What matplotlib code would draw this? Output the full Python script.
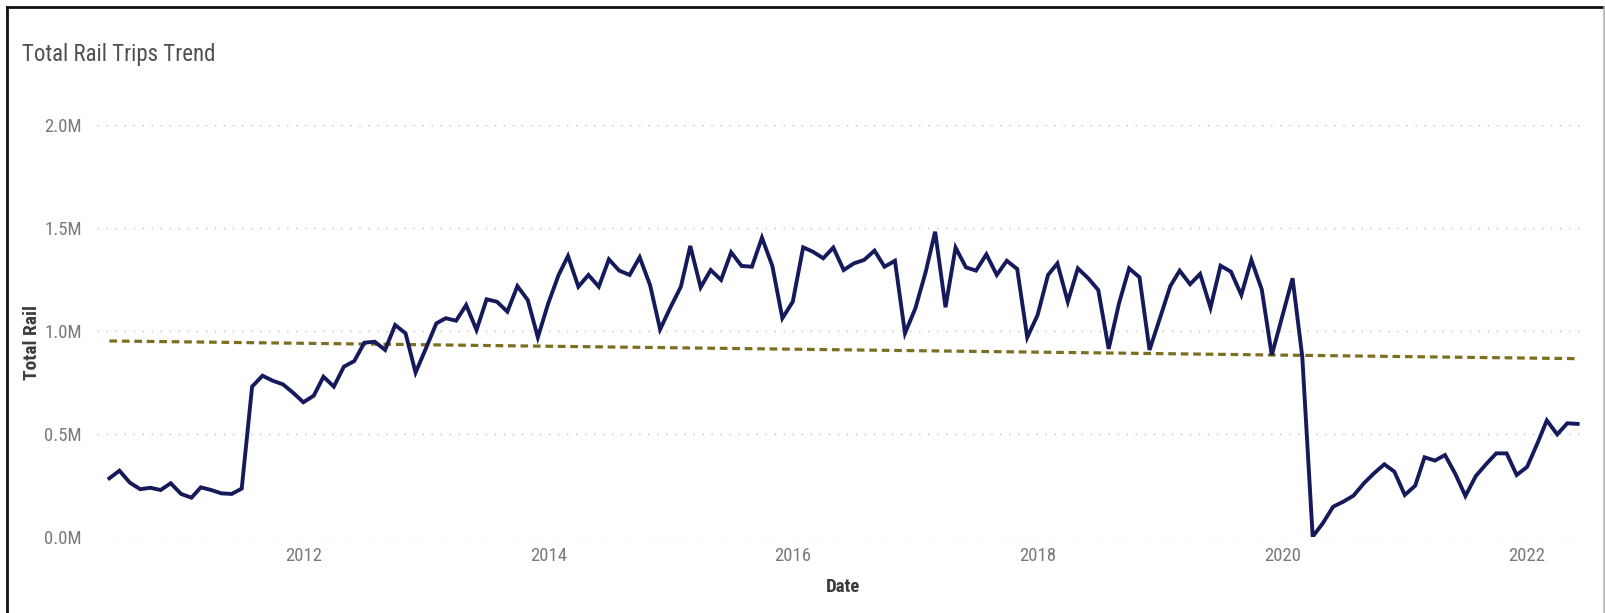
import numpy as np
import pandas as pd
import matplotlib
matplotlib.use("Agg")
import matplotlib.pyplot as plt
import matplotlib.dates as mdates
from matplotlib.lines import Line2D
from matplotlib import font_manager as fm
from matplotlib.ticker import FixedLocator, FuncFormatter

# ---------------- data (millions of trips, monthly, Jun 2010 - Jun 2022) ----------------
start_month = "2010-06-01"
values_2010 = [0.285, 0.322, 0.264, 0.232, 0.239, 0.228, 0.261]
values_2011 = [0.209, 0.191, 0.241, 0.228, 0.212, 0.209, 0.235, 0.730, 0.783, 0.759, 0.741, 0.701]
values_2012 = [0.654, 0.686, 0.778, 0.730, 0.827, 0.854, 0.943, 0.948, 0.908, 1.029, 0.989, 0.798]
values_2013 = [0.916, 1.037, 1.062, 1.050, 1.126, 1.005, 1.154, 1.142, 1.094, 1.218, 1.150, 0.969]
values_2014 = [1.134, 1.272, 1.364, 1.215, 1.272, 1.215, 1.348, 1.293, 1.272, 1.358, 1.223, 1.008]
values_2015 = [1.115, 1.215, 1.413, 1.212, 1.296, 1.248, 1.382, 1.316, 1.312, 1.453, 1.316, 1.062]
values_2016 = [1.142, 1.406, 1.385, 1.353, 1.405, 1.296, 1.328, 1.345, 1.390, 1.312, 1.341, 0.989]
values_2017 = [1.110, 1.288, 1.482, 1.115, 1.405, 1.309, 1.293, 1.372, 1.272, 1.341, 1.301, 0.969]
values_2018 = [1.078, 1.272, 1.328, 1.142, 1.304, 1.256, 1.199, 0.913, 1.135, 1.304, 1.261, 0.908]
values_2019 = [1.062, 1.218, 1.293, 1.227, 1.277, 1.113, 1.317, 1.288, 1.175, 1.345, 1.202, 0.883]
values_2020 = [1.069, 1.256, 0.875, 0.002, 0.066, 0.147, 0.171, 0.201, 0.261, 0.309, 0.353, 0.317]
values_2021 = [0.204, 0.249, 0.387, 0.371, 0.398, 0.306, 0.199, 0.296, 0.354, 0.406, 0.406, 0.301]
values_2022 = [0.340, 0.455, 0.566, 0.498, 0.552, 0.549]

y_ticks = [0.0, 0.5, 1.0, 1.5, 2.0]
x_tick_years = [2012, 2014, 2016, 2018, 2020, 2022]

title = "Total Rail Trips Trend"
x_title = "Date"
y_title = "Total Rail"

values = np.array(values_2010 + values_2011 + values_2012 + values_2013 + values_2014 +
                  values_2015 + values_2016 + values_2017 + values_2018 + values_2019 +
                  values_2020 + values_2021 + values_2022) * 1e6
dates = pd.date_range(start_month, periods=len(values), freq="MS")

# ---------------- fonts ----------------
names = {f.name for f in fm.fontManager.ttflist}
FONT = "DejaVu Sans"
for cand in ["Liberation Sans Narrow", "Roboto Condensed", "Open Sans Condensed", "Roboto", "Lato"]:
    if cand in names:
        FONT = cand
        break
plt.rcParams["font.family"] = [FONT, "DejaVu Sans"]

W, H = 1606, 613
fig = plt.figure(figsize=(W / 100, H / 100), dpi=100)
fig.patch.set_facecolor("white")

ax_left, ax_right, ax_top, ax_bottom = 97, 1583, 125, 537
ax = fig.add_axes([ax_left / W, 1 - ax_bottom / H, (ax_right - ax_left) / W, (ax_bottom - ax_top) / H])

xnum = mdates.date2num(dates)
ax.plot(dates, values, color="#141a5a", lw=2.8, solid_joinstyle="miter", zorder=3)

# linear trend line (least squares on the plotted series)
k, b = np.polyfit(xnum, values, 1)
ax.plot(dates, k * xnum + b, color="#7d6f22", lw=2.3, linestyle=(0, (2.4, 1.5)), zorder=2)

ax.set_ylim(0, 2.0e6)
ax.set_xlim(pd.Timestamp("2010-04-25"), pd.Timestamp("2022-06-17"))

ax.yaxis.set_major_locator(FixedLocator([v * 1e6 for v in y_ticks]))
ax.yaxis.set_major_formatter(FuncFormatter(lambda v, p: f"{v / 1e6:.1f}M"))
ax.xaxis.set_major_locator(FixedLocator([mdates.date2num(pd.Timestamp(f"{y}-01-01")) for y in x_tick_years]))
ax.xaxis.set_major_formatter(FuncFormatter(lambda v, p: mdates.num2date(v).strftime("%Y")))

ax.grid(axis="y", color="#bdbdbd", lw=1.0, linestyle=(0, (1, 5.5)))
ax.grid(axis="x", visible=False)
ax.set_axisbelow(True)
for s in ax.spines.values():
    s.set_visible(False)
ax.tick_params(axis="both", length=0, labelsize=13.5, labelcolor="#7a7a7a")
ax.tick_params(axis="y", pad=11)
ax.tick_params(axis="x", pad=7)
ax.set_facecolor("white")

# titles
fig.text(22 / W, 1 - 55 / H, title, fontsize=16.5, color="#505050", ha="left", va="center")
fig.text(843 / W, 1 - 587 / H, x_title, fontsize=13.5, fontweight="bold", color="#3c3c3c",
         ha="center", va="center")
fig.text(32 / W, 1 - 342 / H, y_title, fontsize=14, fontweight="bold", color="#3c3c3c",
         ha="center", va="center", rotation=90)

# frame of the screenshot
fig.add_artist(Line2D([7 / W, 1.0], [1 - 6.5 / H, 1 - 6.5 / H], transform=fig.transFigure,
                      color="#111111", lw=2.0))
fig.add_artist(Line2D([7 / W, 7 / W], [0, 1 - 6.5 / H], transform=fig.transFigure,
                      color="#111111", lw=2.0))
fig.add_artist(Line2D([1604 / W, 1604 / W], [0, 1 - 6.5 / H], transform=fig.transFigure,
                      color="#b5b5b5", lw=1.2))

fig.savefig("out.png", dpi=100, facecolor="white")
